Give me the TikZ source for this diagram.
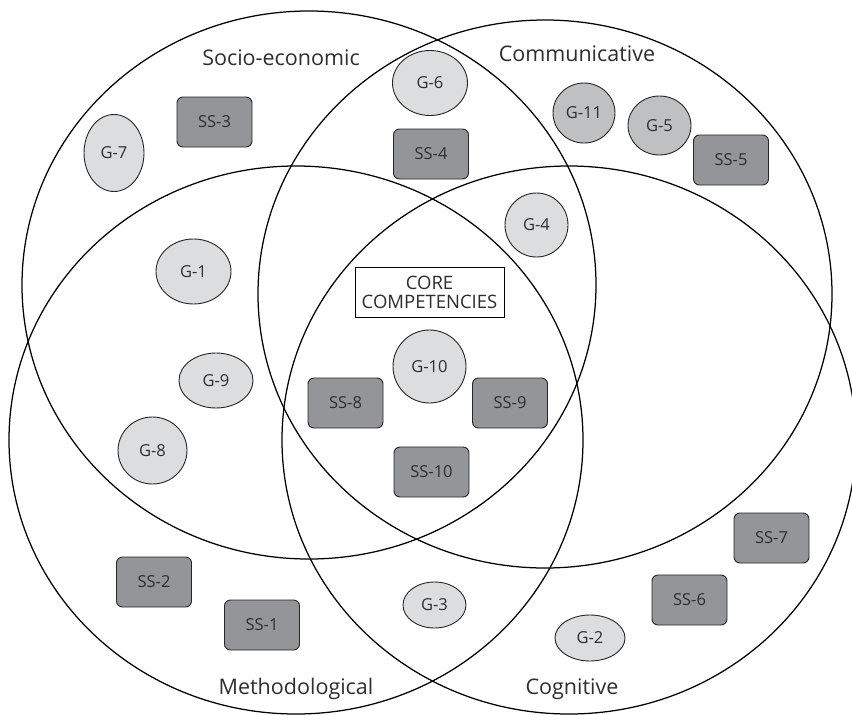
\documentclass[tikz,border=0pt]{standalone}
\usepackage{fontspec}
\setmainfont{Open Sans}
\usetikzlibrary{shapes.geometric}
\definecolor{lightg}{HTML}{DCDDDE}
\definecolor{midg}{HTML}{BFC0C2}
\definecolor{darkg}{HTML}{939598}
\definecolor{txt}{HTML}{2E2E2E}
\tikzset{
  ring/.style={draw=black, line width=1.25pt},
  gnode/.style={ellipse, draw=black!85, line width=0.9pt, fill=lightg, inner sep=0pt, text=txt, font=\fontsize{16.5}{18}\selectfont},
  gmid/.style={gnode, fill=midg},
  ssbox/.style={rectangle, rounded corners=6pt, draw=black!85, line width=0.9pt, fill=darkg, minimum width=75pt, minimum height=50pt, inner sep=0pt, text=txt, font=\fontsize{16.5}{18}\selectfont},
  lbl/.style={text=txt, font=\fontsize{21.5}{24}\selectfont, inner sep=0pt},
  corebox/.style={rectangle, draw=black, line width=0.8pt, fill=white, minimum width=149pt, minimum height=50pt, inner sep=0pt, align=center, text=txt, font=\fontsize{18.5}{22}\selectfont}
}
\begin{document}
\begin{tikzpicture}[x=1pt, y=-1pt]
\useasboundingbox (0,0) rectangle (852,715);
% four sets
\draw[ring] (309,285) ellipse [x radius=287pt, y radius=274pt];
\draw[ring] (545,294) ellipse [x radius=287pt, y radius=274pt];
\draw[ring] (296,440) ellipse [x radius=287pt, y radius=274pt];
\draw[ring] (569,440) ellipse [x radius=287pt, y radius=274pt];
% set labels
\node[lbl] (lse) at (281,58) {Socio-economic};
\node[lbl] (lcm) at (577,54) {Communicative};
\node[lbl] (lme) at (296,689) {Methodological};
\node[lbl] (lco) at (572,689) {Cognitive};
% core
\node[corebox] (core) at (429.5,292) {CORE\\[-3pt]COMPETENCIES};
% G nodes
\node[gnode, minimum width=60pt, minimum height=77pt] (g7) at (114,153) {G-7};
\node[gnode, minimum width=75pt, minimum height=65pt] (g6) at (430,83) {G-6};
\node[gmid, minimum width=62pt, minimum height=60pt] (g11) at (584,113) {G-11};
\node[gmid, minimum width=63pt, minimum height=59pt] (g5) at (659.5,125.5) {G-5};
\node[gnode, minimum width=63pt, minimum height=64pt] (g4) at (536.5,225) {G-4};
\node[gnode, minimum width=75pt, minimum height=65pt] (g1) at (193.5,271.5) {G-1};
\node[gnode, minimum width=73pt, minimum height=73pt] (g10) at (429.5,366.5) {G-10};
\node[gnode, minimum width=74pt, minimum height=55pt] (g9) at (216,380.5) {G-9};
\node[gnode, minimum width=69pt, minimum height=67pt] (g8) at (152.5,450.5) {G-8};
\node[gnode, minimum width=63pt, minimum height=46pt] (g3) at (434.5,605) {G-3};
\node[gnode, minimum width=70pt, minimum height=46pt] (g2) at (590,638) {G-2};
% SS boxes
\node[ssbox] (ss3) at (214.5,122) {SS-3};
\node[ssbox] (ss4) at (431,154) {SS-4};
\node[ssbox] (ss5) at (731,160) {SS-5};
\node[ssbox] (ss8) at (345.5,403) {SS-8};
\node[ssbox] (ss9) at (510,403) {SS-9};
\node[ssbox] (ss10) at (431.5,472) {SS-10};
\node[ssbox] (ss2) at (154,582) {SS-2};
\node[ssbox] (ss1) at (262,625) {SS-1};
\node[ssbox] (ss7) at (771.5,538) {SS-7};
\node[ssbox] (ss6) at (689.5,600) {SS-6};
\end{tikzpicture}
\end{document}
